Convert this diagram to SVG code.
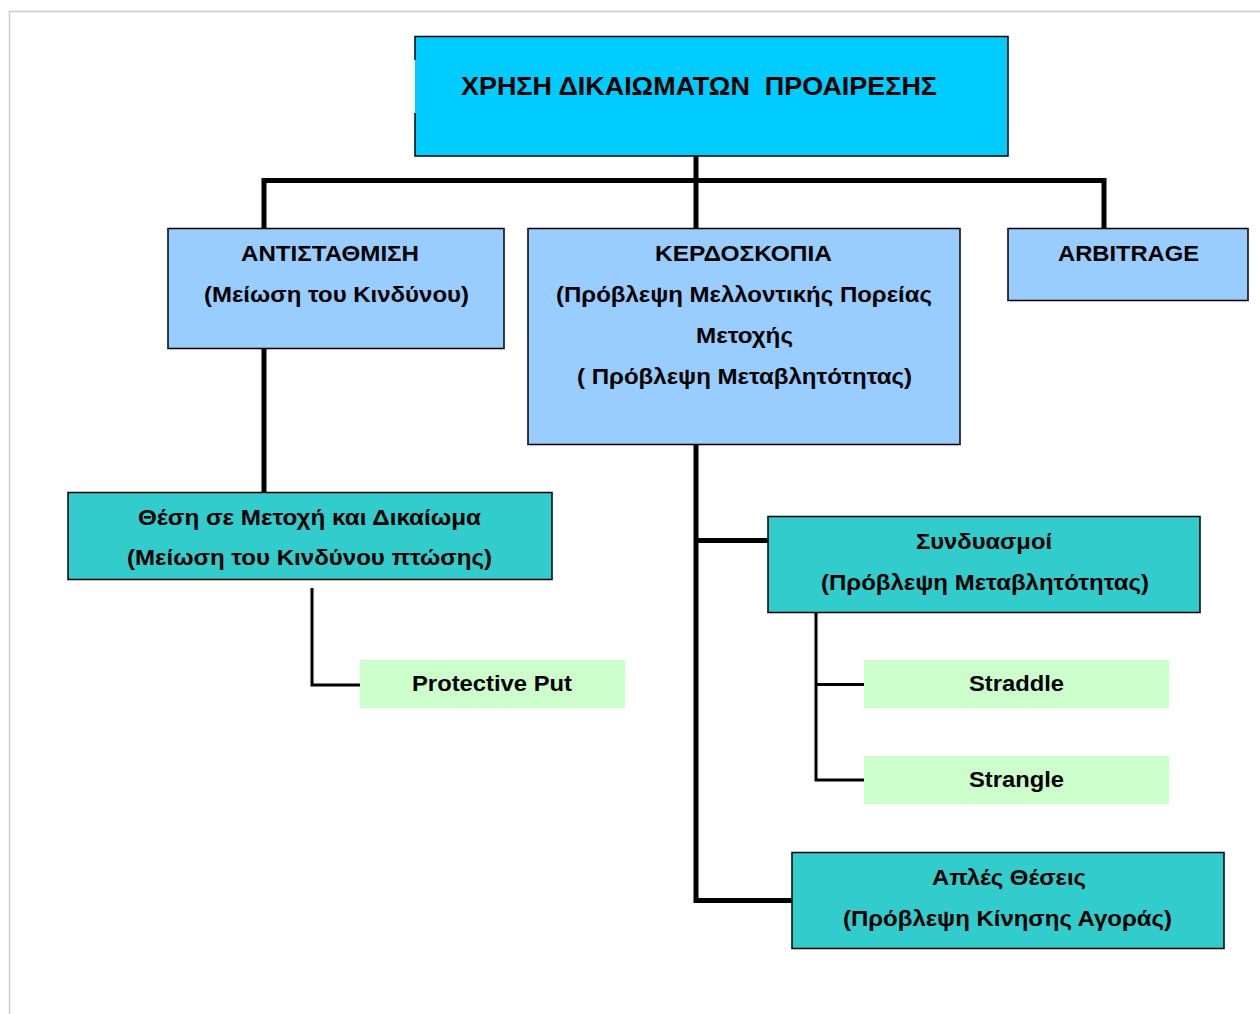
<svg xmlns="http://www.w3.org/2000/svg" width="1260" height="1014" viewBox="0 0 1260 1014">
<style>
text{font-family:"Liberation Sans",Arial,sans-serif;font-weight:bold;fill:#000;font-size:22.5px}
.h{font-size:25px}
.top{fill:#00CCFF;stroke:none}
.tb{fill:none;stroke:#000;stroke-width:1.5}
.l1{fill:#99CCFF;stroke:#000;stroke-width:1.5}
.l2{fill:#33CCCC;stroke:#000;stroke-width:1.5}
.l3{fill:#CCFFCC;stroke:none}
.c{fill:none;stroke:#000;stroke-linejoin:miter}
.w5{stroke-width:5}
.w3{stroke-width:3}
</style>
<rect width="1260" height="1014" fill="#fff"/>
<path d="M9.5 1014V11.5H1260" fill="none" stroke="#cccccc" stroke-width="1.5"/>
<g id="connectors">
<path class="c w5" d="M696 156V228"/>
<path class="c w5" d="M264 228V180.5H1104V228"/>
<path class="c w5" d="M264 348V492"/>
<path class="c w3" d="M312 588V685H360"/>
<path class="c w5" d="M696 444V900.5H792"/>
<path class="c w5" d="M696 540.5H768"/>
<path class="c w3" d="M816 612V780H864"/>
<path class="c w3" d="M816 684.5H864"/>
</g>
<g id="n-root">
<rect class="top" x="415" y="36.5" width="593" height="119.5"/>
<path class="tb" d="M415 60V36.5H1008V156H415V113"/>
<text class="h" x="461" y="94.5" textLength="476" lengthAdjust="spacingAndGlyphs" xml:space="preserve">ΧΡΗΣΗ ΔΙΚΑΙΩΜΑΤΩΝ  ΠΡΟΑΙΡΕΣΗΣ</text>
</g>
<g id="n-hedge">
<rect class="l1" x="168" y="228.5" width="336" height="120"/>
<text x="241" y="260.5" textLength="178" lengthAdjust="spacingAndGlyphs">ΑΝΤΙΣΤΑΘΜΙΣΗ</text>
<text x="204" y="301.5" textLength="265" lengthAdjust="spacingAndGlyphs">(Μείωση του Κινδύνου)</text>
</g>
<g id="n-spec">
<rect class="l1" x="528" y="228.5" width="432" height="216"/>
<text x="655" y="260.5" textLength="177" lengthAdjust="spacingAndGlyphs">ΚΕΡΔΟΣΚΟΠΙΑ</text>
<text x="556" y="301.5" textLength="376" lengthAdjust="spacingAndGlyphs">(Πρόβλεψη Μελλοντικής Πορείας</text>
<text x="696" y="342.5" textLength="97" lengthAdjust="spacingAndGlyphs">Μετοχής</text>
<text x="577" y="383.5" textLength="335" lengthAdjust="spacingAndGlyphs">( Πρόβλεψη Μεταβλητότητας)</text>
</g>
<g id="n-arb">
<rect class="l1" x="1008" y="228.5" width="240" height="72"/>
<text x="1058" y="260.5" textLength="141" lengthAdjust="spacingAndGlyphs">ARBITRAGE</text>
</g>
<g id="n-pos">
<rect class="l2" x="68" y="492.5" width="484" height="87"/>
<text x="138" y="524.5" textLength="343" lengthAdjust="spacingAndGlyphs">Θέση σε Μετοχή και Δικαίωμα</text>
<text x="127" y="564.5" textLength="365" lengthAdjust="spacingAndGlyphs">(Μείωση του Κινδύνου πτώσης)</text>
</g>
<g id="n-pp">
<rect class="l3" x="360" y="660" width="265" height="48"/>
<text x="412" y="691" textLength="160" lengthAdjust="spacingAndGlyphs">Protective Put</text>
</g>
<g id="n-comb">
<rect class="l2" x="768" y="516.5" width="432" height="96"/>
<text x="916" y="548.5" textLength="136" lengthAdjust="spacingAndGlyphs">Συνδυασμοί</text>
<text x="821" y="589.5" textLength="328" lengthAdjust="spacingAndGlyphs">(Πρόβλεψη Μεταβλητότητας)</text>
</g>
<g id="n-straddle">
<rect class="l3" x="864" y="660" width="305" height="48"/>
<text x="969" y="691" textLength="95" lengthAdjust="spacingAndGlyphs">Straddle</text>
</g>
<g id="n-strangle">
<rect class="l3" x="864" y="756" width="305" height="48"/>
<text x="969" y="787" textLength="95" lengthAdjust="spacingAndGlyphs">Strangle</text>
</g>
<g id="n-simple">
<rect class="l2" x="792" y="852.5" width="432" height="96"/>
<text x="932" y="884.5" textLength="154" lengthAdjust="spacingAndGlyphs">Απλές Θέσεις</text>
<text x="843" y="925.5" textLength="329" lengthAdjust="spacingAndGlyphs">(Πρόβλεψη Κίνησης Αγοράς)</text>
</g>
</svg>
